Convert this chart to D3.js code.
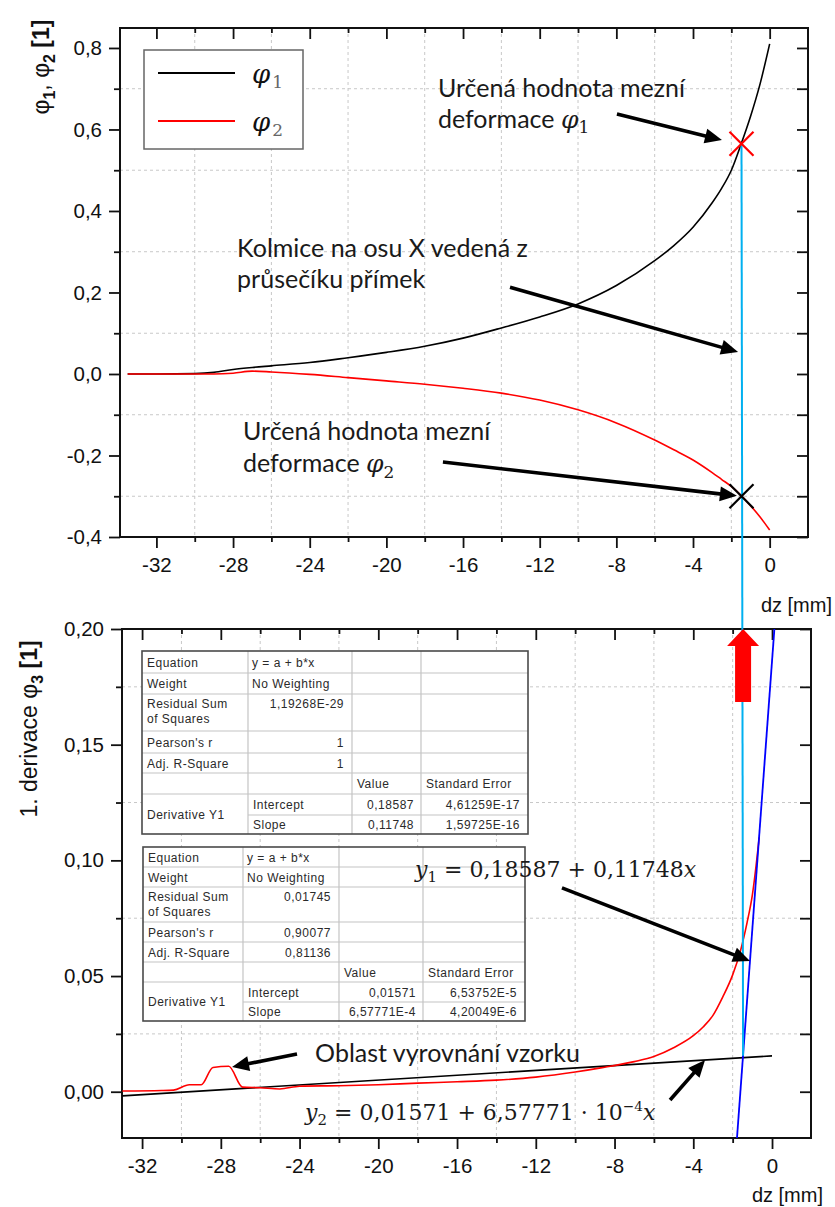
<!DOCTYPE html>
<html><head><meta charset="utf-8">
<script src="https://cdn.jsdelivr.net/npm/d3@7"></script>
<style>body{margin:0;background:#fff;} svg{display:block}</style>
</head><body><svg id="c" width="835" height="1207"></svg>
<script>
// ---------- DATA ----------
const xTicksMajor = [-32, -28, -24, -20, -16, -12, -8, -4, 0];
const xTicksMinor = [-30, -26, -22, -18, -14, -10, -6, -2];
const yTopMajor = [-0.4, -0.2, 0, 0.2, 0.4, 0.6, 0.8];
const yTopMinor = [-0.3, -0.1, 0.1, 0.3, 0.5, 0.7];
const yBotMajor = [0, 0.05, 0.10, 0.15, 0.20];
const yBotMinor = [0.025, 0.075, 0.125, 0.175];

const dz   = [-33.5, -32, -30, -29, -28, -27, -26, -24, -22, -20, -18, -16, -14, -12, -10, -8, -6, -5, -4, -3, -2.5, -2, -1.5, -1, -0.5, 0];
const phi1 = [0, 0, 0.001, 0.004, 0.011, 0.016, 0.02, 0.028, 0.04, 0.053, 0.068, 0.088, 0.113, 0.14, 0.172, 0.217, 0.278, 0.315, 0.36, 0.42, 0.456, 0.5, 0.563, 0.632, 0.712, 0.81];
const phi2 = [0, 0, 0, 0, 0.002, 0.007, 0.005, -0.001, -0.009, -0.017, -0.025, -0.035, -0.047, -0.064, -0.088, -0.12, -0.162, -0.186, -0.211, -0.242, -0.259, -0.276, -0.298, -0.323, -0.351, -0.383];

const derivX = [-33, -31, -30.4, -29.6, -29.0, -28.4, -27.6, -26.9, -26, -25, -24, -22, -20, -18, -16, -14, -12, -10, -8.7, -7, -6, -5, -4, -3.5, -3, -2.5, -2, -1.6, -1.27, -1, -0.65];
const derivY = [0.0003, 0.0005, 0.0007, 0.003, 0.003, 0.0105, 0.011, 0.002, 0.0017, 0.0012, 0.0024, 0.0026, 0.003, 0.0037, 0.0043, 0.005, 0.0063, 0.0085, 0.0103, 0.013, 0.0152, 0.019, 0.0242, 0.028, 0.033, 0.041, 0.0505, 0.061, 0.073, 0.085, 0.11];

const fit1X = [-1.78, 0.12], fit1Y = [-0.02, 0.20];      // y1 = 0,18587 + 0,11748x
const fit2X = [-33, 0],      fit2Y = [-0.0018, 0.0155];  // y2 = 0,01571 + 6,57771e-4 x
const limitX = -1.47, limitPhi1 = 0.565, limitPhi2 = -0.30, limitDeriv = 0.0155;

const t1Labels = ["Equation", "Weight", "Residual Sum|of Squares", "Pearson's r", "Adj. R-Square"];
const t1Values = ["y = a + b*x", "No Weighting", "1,19268E-29", "1", "1"];
const t1Params = ["Intercept", "Slope"], t1Val = ["0,18587", "0,11748"], t1Err = ["4,61259E-17", "1,59725E-16"];
const t2Labels = ["Equation", "Weight", "Residual Sum|of Squares", "Pearson's r", "Adj. R-Square"];
const t2Values = ["y = a + b*x", "No Weighting", "0,01745", "0,90077", "0,81136"];
const t2Params = ["Intercept", "Slope"], t2Val = ["0,01571", "6,57771E-4"], t2Err = ["6,53752E-5", "4,20049E-6"];

// ---------- SETUP ----------
const svg = d3.select("#c");
svg.append("rect").attr("width", 835).attr("height", 1207).attr("fill", "#fff");
const loc = d3.formatLocale({decimal: ",", thousands: " ", grouping: [3], currency: ["", ""], minus: "-"});
const SANS = "'Liberation Sans', Arial, sans-serif";
const NOTE = "Lato, 'Open Sans', sans-serif";
const MATH = "'DejaVu Serif', serif";
const NS = 25; // note font size

const xT = d3.scaleLinear([-33.9, 2], [120, 808]);
const yT = d3.scaleLinear([-0.4, 0.849], [537, 28]);
const xB = d3.scaleLinear([-33.02, 1.98], [122, 811]);
const yB = d3.scaleLinear([-0.02, 0.2], [1138, 629]);

function frame(x, y, yMajor, yMinor, yFmt) {
  const g = svg.append("g");
  const [x0, x1] = x.range(), [y0, y1] = y.range();
  g.append("g").selectAll("line").data(xTicksMinor).join("line")
    .attr("x1", d => x(d)).attr("x2", d => x(d)).attr("y1", y1).attr("y2", y0)
    .attr("stroke", "#c8c8c8").attr("stroke-dasharray", "3,3");
  g.append("g").selectAll("line").data(yMinor).join("line")
    .attr("x1", x0).attr("x2", x1).attr("y1", d => y(d)).attr("y2", d => y(d))
    .attr("stroke", "#c8c8c8").attr("stroke-dasharray", "3,3");
  const ax = [];
  ax.push(g.append("g").attr("transform", `translate(0,${y0})`).call(d3.axisBottom(x).tickValues(xTicksMajor).tickSize(11).tickPadding(9).tickFormat(loc.format("d"))));
  ax.push(g.append("g").attr("transform", `translate(0,${y0})`).call(d3.axisBottom(x).tickValues(xTicksMinor).tickSize(5).tickFormat("")));
  ax.push(g.append("g").attr("transform", `translate(0,${y1})`).call(d3.axisTop(x).tickValues(xTicksMajor).tickSize(-11).tickFormat("")));
  ax.push(g.append("g").attr("transform", `translate(0,${y1})`).call(d3.axisTop(x).tickValues(xTicksMinor).tickSize(-5).tickFormat("")));
  ax.push(g.append("g").attr("transform", `translate(${x0},0)`).call(d3.axisLeft(y).tickValues(yMajor).tickSize(11).tickPadding(7).tickFormat(loc.format(yFmt))));
  ax.push(g.append("g").attr("transform", `translate(${x0},0)`).call(d3.axisLeft(y).tickValues(yMinor).tickSize(6).tickFormat("")));
  ax.push(g.append("g").attr("transform", `translate(${x1},0)`).call(d3.axisRight(y).tickValues(yMajor.concat(yMinor)).tickSize(-11).tickFormat("")));
  ax.forEach(a => {
    a.select(".domain").remove();
    a.selectAll(".tick line").attr("stroke", "#111").attr("stroke-width", 1.8);
    a.selectAll(".tick text").attr("font-family", SANS).attr("font-size", 20.5).attr("fill", "#111");
  });
  g.append("rect").attr("x", x0).attr("y", y1).attr("width", x1 - x0).attr("height", y0 - y1)
    .attr("fill", "none").attr("stroke", "#111").attr("stroke-width", 2);
  return g;
}

function arrow(g, x1, y1, x2, y2) {
  const L = 17, W = 7.5;
  const dx = x2 - x1, dy = y2 - y1, len = Math.hypot(dx, dy), ux = dx / len, uy = dy / len;
  const bx = x2 - ux * L, by = y2 - uy * L;
  g.append("line").attr("x1", x1).attr("y1", y1).attr("x2", bx + ux * 2).attr("y2", by + uy * 2)
    .attr("stroke", "#000").attr("stroke-width", 3.6);
  g.append("path").attr("d", `M${x2},${y2}L${bx - uy * W},${by + ux * W}L${bx + uy * W},${by - ux * W}Z`).attr("fill", "#000");
}

function xMark(g, cx, cy, r, color) {
  g.append("path").attr("d", `M${cx - r},${cy - r}L${cx + r},${cy + r}M${cx - r},${cy + r}L${cx + r},${cy - r}`)
    .attr("stroke", color).attr("stroke-width", 2.2).attr("fill", "none");
}

// text with parts: {t, f}
function rich(g, x, y, parts, size) {
  const t = g.append("text").attr("x", x).attr("y", y).attr("font-family", NOTE).attr("font-size", size).attr("fill", "#1a1a1a");
  let shift = 0;
  parts.forEach(p => {
    const s = t.append("tspan").text(p.t);
    let target = 0;
    if (p.f === "math") s.attr("font-family", MATH).attr("font-style", "italic");
    if (p.f === "mathr") s.attr("font-family", MATH);
    if (p.f === "sub") { s.attr("font-family", MATH).attr("font-size", size * 0.68); target = size * 0.22; }
    if (p.f === "sup") { s.attr("font-family", MATH).attr("font-size", size * 0.62); target = -size * 0.42; }
    if (target !== shift) s.attr("dy", target - shift);
    shift = target;
  });
  return t;
}

// ---------- TOP CHART ----------
const gt = frame(xT, yT, yTopMajor, yTopMinor, ".1f");
const lineT = d3.line().curve(d3.curveMonotoneX);
gt.append("path").attr("d", lineT(dz.map((d, i) => [xT(d), yT(phi1[i])]))).attr("fill", "none").attr("stroke", "#000").attr("stroke-width", 1.6);
gt.append("path").attr("d", lineT(dz.map((d, i) => [xT(d), yT(phi2[i])]))).attr("fill", "none").attr("stroke", "#ff0000").attr("stroke-width", 1.6);

// legend
const lg = svg.append("g");
lg.append("rect").attr("x", 144).attr("y", 50).attr("width", 159).attr("height", 99).attr("fill", "#fff").attr("stroke", "#666").attr("stroke-width", 1.5);
[["#000", "1"], ["#ff0000", "2"]].forEach((d, i) => {
  const yy = 73 + i * 48;
  lg.append("line").attr("x1", 158).attr("x2", 235).attr("y1", yy).attr("y2", yy).attr("stroke", d[0]).attr("stroke-width", 1.8);
  const t = lg.append("text").attr("x", 252).attr("y", yy + 10).attr("font-family", MATH).attr("font-size", 26).attr("fill", "#111");
  t.append("tspan").attr("font-style", "italic").text("φ");
  t.append("tspan").attr("font-size", 17).attr("fill", "#666").attr("dy", 5).attr("dx", 2).text(d[1]);
});

// axis titles top
const yl1 = svg.append("text").attr("transform", "translate(49,67) rotate(-90)").attr("text-anchor", "middle")
  .attr("font-family", SANS).attr("font-size", 23).attr("fill", "#111");
yl1.append("tspan").text("φ");
yl1.append("tspan").attr("font-size", 16).attr("font-weight", "bold").attr("dy", 6).text("1");
yl1.append("tspan").attr("dy", -6).text(", φ");
yl1.append("tspan").attr("font-size", 16).attr("font-weight", "bold").attr("dy", 6).text("2");
yl1.append("tspan").attr("dy", -6).attr("font-weight", "bold").text(" [1]");
svg.append("text").attr("x", 832).attr("y", 612).attr("text-anchor", "end").attr("font-family", SANS).attr("font-size", 20).attr("fill", "#111").text("dz [mm]");

// ---------- BOTTOM CHART ----------
const gb = frame(xB, yB, yBotMajor, yBotMinor, ".2f");
gb.append("path").attr("d", d3.line()(fit2X.map((d, i) => [xB(d), yB(fit2Y[i])]))).attr("stroke", "#000").attr("stroke-width", 1.6).attr("fill", "none");
gb.append("path").attr("d", lineT(derivX.map((d, i) => [xB(d), yB(derivY[i])]))).attr("fill", "none").attr("stroke", "#ff0000").attr("stroke-width", 1.6);
gb.append("path").attr("d", d3.line()(fit1X.map((d, i) => [xB(d), yB(fit1Y[i])]))).attr("stroke", "#0000ff").attr("stroke-width", 1.8).attr("fill", "none");

// cyan perpendicular spanning both charts
svg.append("line").attr("x1", xT(limitX)).attr("y1", yT(limitPhi1)).attr("x2", xB(limitX)).attr("y2", yB(limitDeriv))
  .attr("stroke", "#00b0f0").attr("stroke-width", 2);
xMark(svg, xT(limitX), yT(limitPhi1), 12, "#ff0000");
xMark(svg, xT(limitX), yT(limitPhi2), 12, "#000");

// red block arrow
{
  const cx = xB(limitX), yTip = yB(0.2), yBase = yB(0.1927), yTail = yB(0.1684);
  svg.append("path").attr("d", `M${cx},${yTip}L${cx + 16},${yBase}L${cx + 8},${yBase}L${cx + 8},${yTail}L${cx - 8},${yTail}L${cx - 8},${yBase}L${cx - 16},${yBase}Z`).attr("fill", "#ff0000");
}

svg.append("text").attr("transform", "translate(37,729) rotate(-90)").attr("text-anchor", "middle")
  .attr("font-family", SANS).attr("font-size", 23).attr("fill", "#111")
  .call(t => {
    t.append("tspan").text("1. derivace φ");
    t.append("tspan").attr("font-size", 16).attr("font-weight", "bold").attr("dy", 6).text("3");
    t.append("tspan").attr("dy", -6).attr("font-weight", "bold").text(" [1]");
  });
svg.append("text").attr("x", 823).attr("y", 1202).attr("text-anchor", "end").attr("font-family", SANS).attr("font-size", 20).attr("fill", "#111").text("dz [mm]");

// ---------- TABLES ----------
function table(cols, rows, labels, values, params, vals, errs) {
  const g = svg.append("g").attr("font-family", SANS).attr("font-size", 12).attr("letter-spacing", 0.5).attr("fill", "#2a2a2a");
  const L = cols[0], R = cols[4], T = rows[0], B = rows[8];
  g.append("rect").attr("x", L).attr("y", T).attr("width", R - L).attr("height", B - T).attr("fill", "#fff");
  const ln = (x1, y1, x2, y2) => g.append("line").attr("x1", x1).attr("y1", y1).attr("x2", x2).attr("y2", y2).attr("stroke", "#c4c4c4").attr("stroke-width", 1.2);
  rows.slice(1, 8).forEach((r, i) => { if (i === 6) ln(cols[1], r, R, r); else ln(L, r, R, r); });
  cols.slice(1, 4).forEach(c => ln(c, T, c, B));
  g.append("rect").attr("x", L).attr("y", T).attr("width", R - L).attr("height", B - T).attr("fill", "none").attr("stroke", "#4a4a4a").attr("stroke-width", 1.6);
  const txt = (x, y, s, anchor) => g.append("text").attr("x", x).attr("y", y).attr("text-anchor", anchor || "start").text(s);
  labels.forEach((s, i) => {
    const top = rows[i], h = rows[i + 1] - rows[i];
    const parts = s.split("|");
    const base = parts.length > 1 ? top + 14 : top + h / 2 + 4.5;
    parts.forEach((p, k) => txt(L + 5, base + k * 15, p));
    if (i < 2) txt(cols[1] + 4, base, values[i]);
    else txt(cols[2] - 8, base, values[i], "end");
  });
  txt(cols[2] + 5, rows[5] + (rows[6] - rows[5]) / 2 + 4.5, "Value");
  txt(cols[3] + 5, rows[5] + (rows[6] - rows[5]) / 2 + 4.5, "Standard Error");
  txt(L + 5, (rows[6] + rows[8]) / 2 + 4.5, "Derivative Y1");
  params.forEach((p, k) => {
    const b = rows[6 + k] + (rows[7 + k] - rows[6 + k]) / 2 + 4.5;
    txt(cols[1] + 5, b, p);
    txt(cols[3] - 7, b, vals[k], "end");
    txt(R - 8, b, errs[k], "end");
  });
}
table([142, 248, 352, 421, 528], [651, 673, 694, 731, 753, 773, 794, 815, 834], t1Labels, t1Values, t1Params, t1Val, t1Err);
table([143, 243, 339, 423, 525], [847, 867, 887, 922, 942, 962, 982, 1002, 1021], t2Labels, t2Values, t2Params, t2Val, t2Err);

// ---------- ANNOTATIONS ----------
const an = svg.append("g");
rich(an, xT(-17.31), yT(0.680), [{t: "Určená hodnota mezní"}], NS);
rich(an, xT(-17.31), yT(0.680) + 31, [{t: "deformace "}, {t: "φ", f: "math"}, {t: "1", f: "sub"}], NS);
arrow(an, xT(-7.97), yT(0.638), xT(-2.49), yT(0.574));

rich(an, xT(-27.79), yT(0.287), [{t: "Kolmice na osu X vedená z"}], NS);
rich(an, xT(-27.79), yT(0.287) + 31, [{t: "průsečíku přímek"}], NS);
arrow(an, xT(-13.55), yT(0.213), xT(-1.65), yT(0.054));

rich(an, xT(-27.48), yT(-0.162), [{t: "Určená hodnota mezní"}], NS);
rich(an, xT(-27.48), yT(-0.162) + 32, [{t: "deformace "}, {t: "φ", f: "math"}, {t: "2", f: "sub"}], NS);
arrow(an, xT(-17.05), yT(-0.216), xT(-1.71), yT(-0.299));

rich(an, xB(-18.13), yB(0.0928), [{t: "y", f: "math"}, {t: "1", f: "sub"}, {t: " = 0,18587 + 0,11748", f: "mathr"}, {t: "x", f: "math"}], 22);
arrow(an, xB(-10.67), yB(0.0881), xB(-1.12), yB(0.0565));

rich(an, xB(-23.21), yB(0.0128), [{t: "Oblast vyrovnání vzorku"}], NS);
arrow(an, xB(-24.13), yB(0.0163), xB(-27.43), yB(0.0107));

rich(an, xB(-23.72), yB(-0.0123), [{t: "y", f: "math"}, {t: "2", f: "sub"}, {t: " = 0,01571 + 6,57771 · 10", f: "mathr"}, {t: "−4", f: "sup"}, {t: "x", f: "math"}], 22);
arrow(an, xB(-5.18), yB(-0.0036), xB(-3.40), yB(0.0137));
</script></body></html>
